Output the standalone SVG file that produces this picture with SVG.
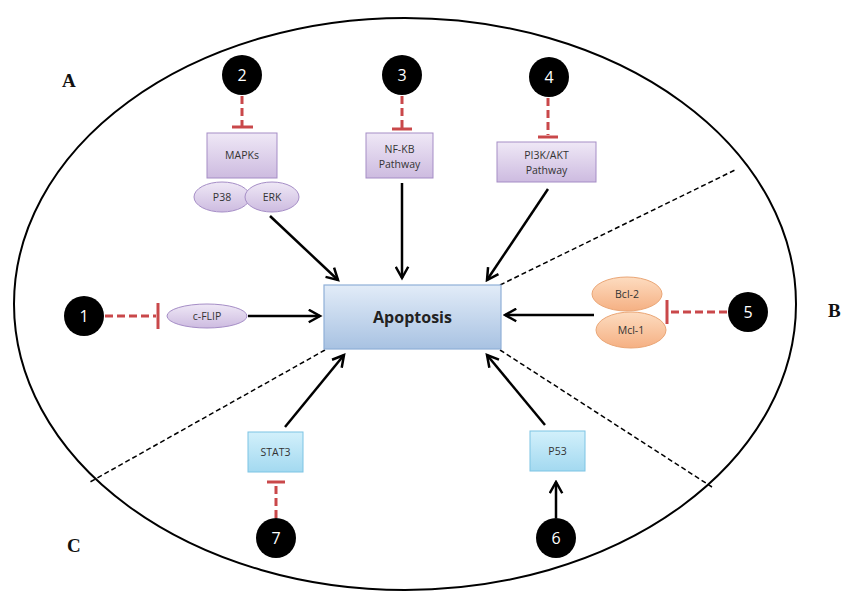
<svg xmlns="http://www.w3.org/2000/svg" width="842" height="605" viewBox="0 0 842 605">
<style>
.lbl{font-family:"Open Sans","Liberation Sans",sans-serif;font-size:10.5px;fill:#333;text-anchor:middle}
.num{font-family:"Open Sans","Liberation Sans",sans-serif;font-size:16px;fill:#fff;text-anchor:middle}
.big{font-family:"Liberation Serif",serif;font-size:19px;font-weight:bold;fill:#111}
.inh{stroke:#c9484a;stroke-width:3;stroke-dasharray:8,4;fill:none}
.bar{stroke:#c9484a;stroke-width:3;fill:none}
.act{stroke:#000;stroke-width:2.5;fill:none;marker-end:url(#ah)}
.sep{stroke:#000;stroke-width:1.5;stroke-dasharray:5,3;fill:none}
.pur{fill:url(#gp);stroke:#a58dc6;stroke-width:1}
.org{fill:url(#go);stroke:#eaa676;stroke-width:1}
.blu{fill:url(#gb);stroke:#7cc4e4;stroke-width:1}
.dot{fill:#000}
</style>
<defs>
<linearGradient id="gp" x1="0" y1="0" x2="0" y2="1"><stop offset="0" stop-color="#efe8f6"/><stop offset="1" stop-color="#cdbbe0"/></linearGradient>
<linearGradient id="go" x1="0" y1="0" x2="0" y2="1"><stop offset="0" stop-color="#fddcc0"/><stop offset="1" stop-color="#f5b083"/></linearGradient>
<linearGradient id="gb" x1="0" y1="0" x2="0" y2="1"><stop offset="0" stop-color="#d2f0fb"/><stop offset="1" stop-color="#a3d9f0"/></linearGradient>
<linearGradient id="ga" x1="0" y1="0" x2="0" y2="1"><stop offset="0" stop-color="#e2ecf8"/><stop offset="1" stop-color="#a8c2e2"/></linearGradient>
<marker id="ah" viewBox="0 0 12 12" refX="10" refY="6" markerWidth="6" markerHeight="6" orient="auto" markerUnits="strokeWidth">
<path d="M1,1 L10,6 L1,11" fill="none" stroke="#000" stroke-width="2"/>
</marker>
</defs>
<rect width="842" height="605" fill="#fff"/>
<ellipse cx="405" cy="304" rx="391" ry="286" fill="none" stroke="#000" stroke-width="2"/>
<text class="big" x="62" y="87">A</text>
<text class="big" x="828" y="317">B</text>
<text class="big" x="67" y="552">C</text>
<g id="connectors">
<path class="sep" d="M500,285 L735,170"/>
<path class="sep" d="M325,350 L90,482"/>
<path class="sep" d="M500,350 L712,487"/>
<path class="act" d="M270,216 L338,280"/>
<path class="act" d="M402,183 L402,278"/>
<path class="act" d="M548,189 L487,280"/>
<path class="act" d="M248,316 L320,316"/>
<path class="act" d="M594,315 L505,315"/>
<path class="act" d="M285,427 L344,355"/>
<path class="act" d="M545,425 L487,355"/>
<path class="act" d="M556,518 L556,482"/>
<path class="inh" d="M242,96 L242,126"/><path class="bar" d="M232,127 L253,127"/>
<path class="inh" d="M402,96 L402,128"/><path class="bar" d="M392,129 L412,129"/>
<path class="inh" d="M548,98 L548,135"/><path class="bar" d="M538,137 L558,137"/>
<path class="inh" d="M105,316 L156,316"/><path class="bar" d="M158,303 L158,329"/>
<path class="inh" d="M727,312 L669,312"/><path class="bar" d="M667,300 L667,324"/>
<path class="inh" d="M276,518 L276,484"/><path class="bar" d="M267,482 L285,482"/>
</g>
<g id="apoptosis">
<rect x="324" y="285" width="177" height="64" fill="url(#ga)" stroke="#8fb0d8" stroke-width="1.2"/>
<text x="412.5" y="323" font-family="'Open Sans','Liberation Sans',sans-serif" font-size="16" font-weight="bold" fill="#222" text-anchor="middle">Apoptosis</text>
</g>
<g id="n2"><circle class="dot" cx="242" cy="75" r="20"/><text class="num" x="242" y="81">2</text></g>
<g id="n3"><circle class="dot" cx="402" cy="75" r="20"/><text class="num" x="402" y="81">3</text></g>
<g id="n4"><circle class="dot" cx="549" cy="77" r="20"/><text class="num" x="549" y="83">4</text></g>
<g id="n1"><circle class="dot" cx="84" cy="316" r="20"/><text class="num" x="84" y="322">1</text></g>
<g id="n5"><circle class="dot" cx="748" cy="312" r="20"/><text class="num" x="748" y="318">5</text></g>
<g id="n7"><circle class="dot" cx="276" cy="538" r="20"/><text class="num" x="276" y="544">7</text></g>
<g id="n6"><circle class="dot" cx="556" cy="538" r="20"/><text class="num" x="556" y="544">6</text></g>
<g id="mapks">
<rect class="pur" x="207" y="133" width="70" height="45"/>
<text class="lbl" x="242" y="159">MAPKs</text>
</g>
<g id="p38"><ellipse class="pur" cx="222" cy="197" rx="28" ry="15"/><text class="lbl" x="222" y="201" font-size="9.5">P38</text></g>
<g id="erk"><ellipse class="pur" cx="272" cy="197" rx="27" ry="15"/><text class="lbl" x="272" y="201" font-size="9.5">ERK</text></g>
<g id="nfkb">
<rect class="pur" x="366" y="133" width="67" height="45"/>
<text class="lbl" x="399.5" y="153">NF-KB</text><text class="lbl" x="399.5" y="168">Pathway</text>
</g>
<g id="pi3k">
<rect class="pur" x="497" y="142" width="99" height="40"/>
<text class="lbl" x="546.5" y="159">PI3K/AKT</text><text class="lbl" x="546.5" y="174">Pathway</text>
</g>
<g id="cflip"><ellipse class="pur" cx="207" cy="316" rx="40" ry="12"/><text class="lbl" x="207" y="320">c-FLIP</text></g>
<g id="bcl2"><ellipse class="org" cx="627" cy="294" rx="35" ry="17"/><text class="lbl" x="627" y="298">Bcl-2</text></g>
<g id="mcl1"><ellipse class="org" cx="631" cy="330" rx="35" ry="18"/><text class="lbl" x="631" y="334">Mcl-1</text></g>
<g id="stat3"><rect class="blu" x="248" y="432" width="55" height="40"/><text class="lbl" x="275.5" y="456">STAT3</text></g>
<g id="p53"><rect class="blu" x="530" y="431" width="55" height="40"/><text class="lbl" x="557.5" y="455">P53</text></g>
</svg>
